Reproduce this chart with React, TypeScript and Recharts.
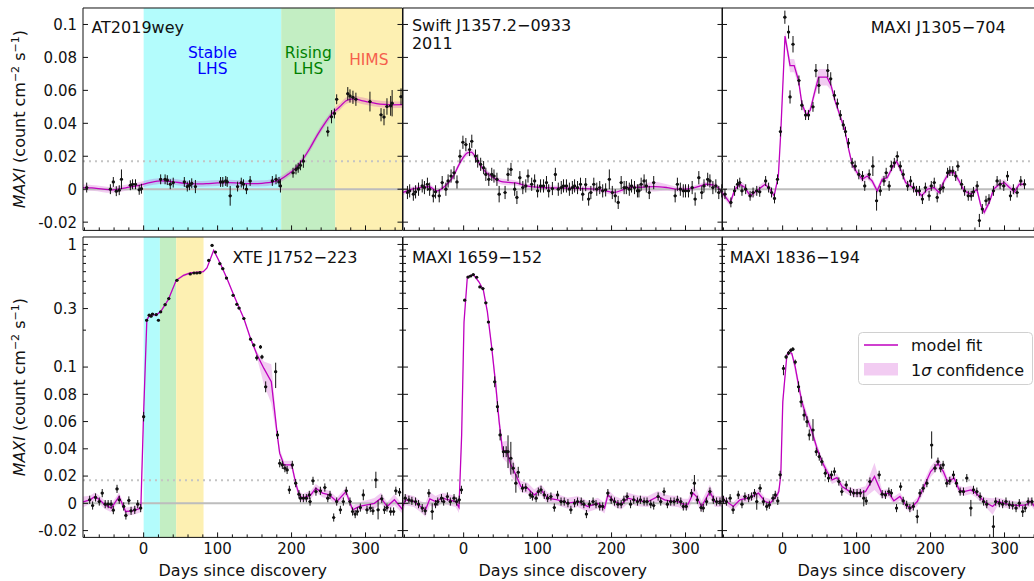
import React from 'react';
import {
  Area,
  ComposedChart,
  ErrorBar,
  Label,
  Legend,
  Line,
  ReferenceArea,
  ReferenceLine,
  Scatter,
  XAxis,
  YAxis,
} from 'recharts';

// ---- axis values ----
const dayTicks = [-80, -60, -40, -20, 0, 20, 40, 60, 80, 100, 120, 140, 160, 180, 200, 220, 240, 260, 280, 300, 320, 340];
const dayLabels = [0, 100, 200, 300];
const dayRange = [-82, 350];
const linTicks = [-0.02, 0, 0.02, 0.04, 0.06, 0.08, 0.1];
const linRange = [-0.025, 0.11];
const symTicks = [-0.02, 0, 0.02, 0.04, 0.06, 0.08, 0.1, 0.2, 0.3, 0.4, 0.5, 0.6, 0.7, 0.8, 0.9, 1];
const symLabels = [-0.02, 0, 0.02, 0.04, 0.06, 0.08, 0.1, 0.3, 1];
const symRange = [-0.025, 1.15];
const noiseLevel = 0.017;
const binHalfWidth = 2;

// state intervals (days)
const at2019weyStates = [[0, 186], [186, 259], [259, 350]];
const xteStates = [[0, 22], [22, 44], [44, 81]];
const stateNames = [['Stable', 'LHS'], ['Rising', 'LHS'], ['HIMS']];

// ---- model fits: [day, flux, 1 sigma] ----
const at2019weyFit = [
  [-82, 0.001, 0.0018], [-70, 0.0008, 0.0018], [-55, 0.0, 0.0018], [-45, -0.0004, 0.0018], [-35, 0.0, 0.0018],
  [-20, 0.0012, 0.0018], [-5, 0.0025, 0.0018], [10, 0.0042, 0.0018], [25, 0.005, 0.0018], [40, 0.0045, 0.0018],
  [55, 0.0036, 0.0018], [70, 0.0032, 0.0018], [85, 0.0034, 0.0018], [100, 0.0038, 0.0018], [115, 0.004, 0.0018],
  [130, 0.0036, 0.0018], [145, 0.0034, 0.0018], [160, 0.0036, 0.0018], [175, 0.0044, 0.0018], [185, 0.006, 0.0018],
  [195, 0.009, 0.0018], [205, 0.0125, 0.0018], [215, 0.018, 0.0018], [225, 0.025, 0.002], [235, 0.033, 0.002],
  [245, 0.04, 0.002], [255, 0.046, 0.002], [265, 0.05, 0.002], [275, 0.054, 0.002], [285, 0.0548, 0.002],
  [295, 0.0538, 0.002], [305, 0.0528, 0.002], [315, 0.052, 0.002], [325, 0.0515, 0.002], [335, 0.0512, 0.002],
  [350, 0.0513, 0.002],
];
const swiftFit = [
  [-82, -0.002, 0.0015], [-70, 0.0, 0.0015], [-58, 0.001, 0.0015], [-47, 0.0015, 0.0015], [-36, -0.001, 0.0015],
  [-25, 0.002, 0.0015], [-15, 0.007, 0.0015], [-5, 0.016, 0.0018], [5, 0.022, 0.002], [10, 0.0225, 0.002],
  [18, 0.018, 0.002], [25, 0.013, 0.0018], [32, 0.0096, 0.0018], [40, 0.007, 0.0018], [50, 0.0048, 0.0018],
  [60, 0.0042, 0.0018], [70, 0.0038, 0.0015], [85, 0.002, 0.0015], [100, 0.0012, 0.0015], [120, 0.0008, 0.0015],
  [140, 0.0006, 0.0015], [160, 0.0004, 0.0015], [177, 0.0, 0.0015], [190, -0.0008, 0.0015], [203, -0.002, 0.0015],
  [215, -0.0004, 0.0015], [222, 0.001, 0.0015], [240, 0.0012, 0.0018], [258, 0.0016, 0.003], [275, 0.001, 0.002],
  [290, 0.0, 0.0015], [308, 0.0004, 0.0015], [320, 0.002, 0.0015], [328, 0.003, 0.0015], [338, 0.0025, 0.0015],
  [346, 0.0, 0.0015], [352, -0.004, 0.0015],
];
const j1305Fit = [
  [-82, -0.002, 0.002], [-71, -0.0084, 0.002], [-64.5, 0.0, 0.002], [-57.7, 0.003, 0.002], [-51, 0.001, 0.002],
  [-44, -0.004, 0.002], [-35, -0.001, 0.002], [-23.7, 0.003, 0.002], [-17, 0.0, 0.002], [-11.5, -0.004, 0.002],
  [-5.8, 0.008, 0.002], [-2.6, 0.034, 0.002], [3.2, 0.093, 0.003], [10, 0.075, 0.004], [15.6, 0.075, 0.004],
  [21.5, 0.066, 0.003], [26, 0.052, 0.002], [32, 0.045, 0.002], [37.3, 0.048, 0.002], [42.8, 0.058, 0.003],
  [48.6, 0.068, 0.005], [60, 0.068, 0.005], [65.4, 0.063, 0.003], [71.3, 0.053, 0.002], [78, 0.044, 0.002],
  [84, 0.036, 0.002], [89.4, 0.024, 0.002], [94, 0.015, 0.002], [100.7, 0.01, 0.002], [107.5, 0.006, 0.002],
  [114.5, 0.008, 0.002], [121, 0.005, 0.002], [127.8, -0.001, 0.002], [134.6, 0.006, 0.002], [141.4, 0.007, 0.002],
  [148.2, 0.013, 0.002], [154, 0.017, 0.002], [159.5, 0.012, 0.002], [166.3, 0.004, 0.002], [173, 0.002, 0.002],
  [182, -0.001, 0.002], [188, -0.004, 0.002], [195.6, 0.0, 0.002], [204.7, 0.001, 0.002], [211.5, -0.002, 0.002],
  [218.3, 0.005, 0.002], [225, 0.01, 0.002], [232, 0.01, 0.002], [238.6, 0.005, 0.002], [245.4, -0.001, 0.002],
  [254.5, -0.003, 0.002], [262.6, 0.0, 0.002], [268, -0.01, 0.002], [272.6, -0.014, 0.002], [279.4, -0.008, 0.002],
  [285.3, 0.0, 0.002], [293, 0.003, 0.002], [300, 0.004, 0.002], [306.6, 0.001, 0.002], [313.4, -0.0016, 0.002],
  [320, 0.003, 0.002], [327, 0.003, 0.002],
];
const xteFit = [
  [-82, 0.001, 0.004], [-72.6, 0.0026, 0.003], [-66, 0.005, 0.003], [-59.5, 0.0026, 0.003], [-52.7, -0.0011, 0.003],
  [-43.7, -0.0035, 0.003], [-33.3, 0.005, 0.003], [-24.3, -0.006, 0.003], [-14.4, -0.0055, 0.003], [-3.8, -0.0035, 0.003],
  [-0.2, 0.0636, 0.004], [4.3, 0.241, 0.006], [7.5, 0.262, 0.006], [12, 0.268, 0.006], [17, 0.265, 0.006],
  [23.3, 0.285, 0.006], [33.6, 0.357, 0.008], [44, 0.51, 0.01], [54, 0.56, 0.015], [63, 0.585, 0.01],
  [80.7, 0.6, 0.01], [85.6, 0.643, 0.01], [94.7, 0.896, 0.015], [103.8, 0.697, 0.01], [112.8, 0.526, 0.01],
  [121.9, 0.385, 0.008], [128.7, 0.309, 0.006], [135.5, 0.249, 0.006], [144.5, 0.171, 0.006], [153.6, 0.125, 0.008],
  [162.6, 0.099, 0.012], [172.6, 0.0892, 0.016], [180.7, 0.0502, 0.004], [183.9, 0.0368, 0.003], [189.8, 0.0282, 0.003],
  [200.2, 0.0282, 0.003], [205.6, 0.0148, 0.003], [210.2, 0.0062, 0.003], [214.7, 0.0038, 0.003], [226, 0.0062, 0.003],
  [232.8, 0.0111, 0.003], [241.9, 0.0075, 0.003], [250.9, 0.0062, 0.003], [261.3, 0.0013, 0.003], [273.5, 0.0086, 0.003],
  [282.6, -0.0048, 0.003], [291.6, -0.0023, 0.003], [312, 0.0, 0.004], [321, 0.0038, 0.004], [329.2, -0.0023, 0.003],
  [339.1, 0.0026, 0.004], [350.4, -0.0048, 0.003],
];
const m1659Fit = [
  [-82, -0.002, 0.004], [-78.7, 0.0026, 0.004], [-67.4, 0.0013, 0.004], [-58.4, -0.0023, 0.004], [-51.6, -0.0048, 0.005],
  [-45.7, 0.0033, 0.005], [-38, 0.0013, 0.004], [-29, 0.0038, 0.004], [-20, 0.0026, 0.004], [-10.9, 0.0013, 0.004],
  [-6.3, -0.0031, 0.004], [-2.7, 0.0502, 0.005], [0.5, 0.233, 0.01], [5, 0.542, 0.01], [13.1, 0.568, 0.01],
  [20.8, 0.494, 0.01], [26.7, 0.423, 0.01], [32.1, 0.282, 0.008], [37.6, 0.151, 0.006], [43.4, 0.0868, 0.006],
  [48, 0.0599, 0.006], [52.5, 0.0392, 0.006], [58.4, 0.0379, 0.008], [63.8, 0.0282, 0.008], [70.6, 0.0209, 0.006],
  [77.4, 0.0123, 0.004], [86.5, 0.0111, 0.004], [95.5, 0.0062, 0.004], [104.6, 0.0099, 0.004], [113.6, 0.0038, 0.004],
  [127.2, 0.0026, 0.004], [140.8, 0.0001, 0.004], [154.3, 0.0013, 0.004], [167.9, -0.0023, 0.004], [181.5, 0.0001, 0.004],
  [190.5, -0.0035, 0.004], [195, 0.0062, 0.004], [204, 0.0013, 0.004], [213, -0.0006, 0.004], [222.1, 0.0038, 0.004],
  [235.7, 0.0018, 0.004], [249.2, 0.0013, 0.004], [262.8, 0.005, 0.004], [271.8, 0.0026, 0.004], [278.6, 0.0018, 0.004],
  [289.9, 0.0013, 0.004], [296.7, -0.0006, 0.004], [303.5, -0.0006, 0.004], [310.3, 0.0075, 0.005], [314.8, 0.005, 0.005],
  [321.6, -0.0023, 0.004], [332.9, 0.0086, 0.005], [339.7, 0.0013, 0.004], [351, 0.0013, 0.004],
];
const m1836Fit = [
  [-82, 0.0026, 0.003], [-75.8, 0.0013, 0.003], [-66.7, -0.0023, 0.003], [-57.7, 0.0026, 0.003], [-44.1, 0.0043, 0.003],
  [-32.8, 0.0075, 0.003], [-23.7, 0.0013, 0.003], [-16.9, 0.0001, 0.003], [-7.9, 0.0056, 0.003], [-5.2, 0.0086, 0.003],
  [-2.5, 0.0209, 0.003], [0.2, 0.0745, 0.005], [5.7, 0.125, 0.005], [7.9, 0.133, 0.005], [12.4, 0.129, 0.005],
  [17, 0.1005, 0.005], [21.5, 0.0868, 0.004], [26, 0.0745, 0.004], [32.8, 0.0624, 0.004], [39.6, 0.0527, 0.004],
  [46.4, 0.0404, 0.003], [53.2, 0.0306, 0.003], [60, 0.0233, 0.003], [66.8, 0.0172, 0.003], [73.5, 0.0189, 0.003],
  [80.3, 0.0123, 0.003], [89.4, 0.0092, 0.003], [98.4, 0.0075, 0.003], [112, 0.0086, 0.004], [124.2, 0.0197, 0.01],
  [134.6, 0.0067, 0.003], [143.6, 0.0075, 0.003], [150.4, 0.0018, 0.003], [158.6, 0.005, 0.003], [166.3, -0.0011, 0.003],
  [173, -0.0035, 0.003], [182.1, 0.0013, 0.003], [191.1, 0.0123, 0.004], [200.2, 0.0233, 0.004], [210.1, 0.0294, 0.004],
  [217.3, 0.0233, 0.004], [222.8, 0.016, 0.003], [231.8, 0.0185, 0.003], [238.6, 0.0099, 0.003], [245.4, 0.0086, 0.003],
  [254.5, 0.0099, 0.003], [261.3, 0.0075, 0.003], [272.6, 0.0013, 0.003], [283.9, -0.0023, 0.006], [290.7, 0.0013, 0.003],
  [304.3, -0.0006, 0.003], [317.9, -0.0016, 0.003], [329.2, -0.0011, 0.003], [336, 0.0013, 0.003], [340.5, -0.0023, 0.003],
  [350, 0.0, 0.003],
];

// ---- MAXI data: [day, flux, error] ----
const at2019weyObs = [
  [-77, 0.001, 0.003], [-45, 0.0, 0.003], [-41, 0.0044, 0.003], [-37, -0.0012, 0.003], [-33, -0.0006, 0.003],
  [-30, 0.006, 0.006], [-18, 0.0024, 0.003], [-15, 0.003, 0.003], [-11, 0.003, 0.003], [-6, -0.0004, 0.003],
  [-3, 0.0003, 0.003], [23, 0.006, 0.003], [29, 0.006, 0.003], [32, 0.0055, 0.003], [36, 0.003, 0.003],
  [40, 0.004, 0.003], [55, 0.0044, 0.003], [59, 0.0016, 0.003], [62, 0.0024, 0.003], [65, 0.0036, 0.003],
  [70, 0.0016, 0.004], [104, 0.0044, 0.003], [107, 0.0044, 0.003], [111, 0.005, 0.003], [113, 0.0044, 0.003],
  [117, -0.004, 0.006], [127, 0.0016, 0.003], [132, 0.004, 0.003], [135, 0.003, 0.003], [139, 0.0, 0.003],
  [144, 0.005, 0.003], [174, 0.005, 0.003], [179, 0.006, 0.003], [183, 0.0044, 0.003], [185, 0.002, 0.004],
  [202, 0.01, 0.003], [206, 0.012, 0.003], [209, 0.013, 0.003], [212, 0.0145, 0.003], [216, 0.017, 0.004],
  [249, 0.035, 0.003], [254, 0.044, 0.004], [258, 0.046, 0.003], [261, 0.0546, 0.003], [276, 0.058, 0.004],
  [279, 0.0566, 0.004], [283, 0.0558, 0.004], [287, 0.0546, 0.004], [306, 0.0532, 0.006], [321, 0.0452, 0.004],
  [325, 0.0438, 0.005], [329, 0.0502, 0.005], [334, 0.0506, 0.006], [336, 0.0522, 0.008], [348, 0.0562, 0.005],
];
const swiftObs = [
  [-76, -0.002, 0.004], [-73, -0.001, 0.004], [-68, -0.003, 0.004], [-65, -0.0016, 0.004], [-61, 0.0, 0.004],
  [-56, 0.002, 0.004], [-53, 0.001, 0.004], [-49, 0.003, 0.004], [-46, 0.0, 0.004], [-41, -0.004, 0.004],
  [-38, -0.0016, 0.004], [-33, -0.004, 0.004], [-29, 0.004, 0.004], [-24, 0.0, 0.004], [-21, 0.005, 0.004],
  [-17, 0.008, 0.004], [-13, 0.01, 0.004], [-9, 0.0044, 0.004], [-5, 0.02, 0.004], [-1, 0.0285, 0.004],
  [3, 0.0271, 0.004], [8, 0.0241, 0.004], [11, 0.0291, 0.004], [16, 0.0201, 0.004], [19, 0.0171, 0.004],
  [23, 0.0151, 0.004], [27, 0.0131, 0.004], [30, 0.009, 0.004], [34, 0.006, 0.004], [38, 0.009, 0.004],
  [41, 0.008, 0.004], [45, 0.006, 0.004], [48, -0.003, 0.005], [56, -0.002, 0.004], [60, 0.009, 0.004],
  [64, 0.012, 0.004], [69, 0.0, 0.004], [72, -0.005, 0.004], [76, 0.007, 0.004], [80, 0.001, 0.004],
  [84, 0.002, 0.004], [87, 0.008, 0.004], [92, 0.003, 0.004], [96, 0.005, 0.004], [100, -0.001, 0.004],
  [104, 0.002, 0.004], [108, 0.002, 0.004], [112, 0.004, 0.004], [115, -0.001, 0.004], [120, 0.0004, 0.004],
  [124, 0.009, 0.004], [128, 0.0, 0.004], [132, 0.001, 0.004], [135, 0.002, 0.004], [139, 0.002, 0.004],
  [143, 0.0, 0.004], [147, 0.001, 0.004], [150, 0.002, 0.004], [154, 0.001, 0.004], [158, 0.003, 0.004],
  [161, -0.003, 0.004], [165, 0.0028, 0.004], [169, -0.006, 0.004], [172, -0.002, 0.004], [176, 0.003, 0.004],
  [180, 0.0, 0.004], [184, 0.001, 0.004], [188, -0.001, 0.004], [192, -0.0004, 0.004], [197, 0.006, 0.006],
  [201, -0.002, 0.004], [205, -0.004, 0.004], [209, -0.008, 0.004], [213, 0.004, 0.004], [217, 0.001, 0.004],
  [220, 0.001, 0.004], [224, 0.0, 0.004], [227, 0.002, 0.004], [231, 0.001, 0.004], [235, -0.001, 0.004],
  [237, -0.001, 0.004], [240, 0.003, 0.004], [244, 0.005, 0.004], [247, 0.002, 0.004], [251, -0.002, 0.004],
  [257, 0.004, 0.004], [286, -0.004, 0.004], [289, 0.003, 0.004], [293, 0.0, 0.004], [297, -0.001, 0.004],
  [300, -0.001, 0.004], [304, -0.001, 0.004], [309, 0.001, 0.004], [313, -0.006, 0.004], [318, 0.007, 0.004],
  [322, -0.002, 0.004], [325, 0.002, 0.004], [330, 0.006, 0.004], [333, 0.005, 0.004], [337, 0.001, 0.004],
  [341, 0.002, 0.004], [345, -0.002, 0.004], [349, -0.001, 0.004],
];
const j1305Obs = [
  [-78, -0.003, 0.003], [-70, -0.008, 0.003], [-65, -0.001, 0.003], [-61, 0.003, 0.003], [-58, 0.004, 0.003],
  [-55, -0.001, 0.003], [-50, 0.0, 0.003], [-44, -0.004, 0.003], [-40, -0.002, 0.003], [-35, -0.001, 0.003],
  [-31, -0.0016, 0.003], [-23, 0.005, 0.003], [-19, 0.001, 0.003], [-15, -0.002, 0.003], [-11, -0.0056, 0.003],
  [-7, 0.006, 0.003], [-3, 0.035, 0.003], [3, 0.1044, 0.004], [8, 0.0954, 0.004], [10, 0.056, 0.004],
  [14, 0.088, 0.005], [22, 0.066, 0.003], [26, 0.051, 0.003], [31, 0.045, 0.003], [35, 0.045, 0.003],
  [41, 0.05, 0.003], [45, 0.072, 0.004], [49, 0.063, 0.005], [61, 0.072, 0.004], [65, 0.067, 0.004],
  [70, 0.057, 0.003], [74, 0.052, 0.003], [78, 0.045, 0.003], [82, 0.039, 0.003], [85, 0.035, 0.003],
  [89, 0.028, 0.003], [94, 0.016, 0.003], [98, 0.014, 0.003], [103, 0.009, 0.003], [108, 0.008, 0.003],
  [111, 0.002, 0.003], [117, 0.009, 0.003], [122, 0.014, 0.006], [127, -0.007, 0.006], [132, -0.001, 0.003],
  [137, 0.005, 0.003], [140, 0.01, 0.003], [144, 0.002, 0.003], [147, 0.014, 0.003], [151, 0.016, 0.003],
  [155, 0.02, 0.003], [159, 0.014, 0.003], [163, 0.009, 0.003], [169, 0.002, 0.003], [173, 0.005, 0.003],
  [177, 0.001, 0.003], [181, -0.001, 0.003], [185, -0.001, 0.003], [189, -0.006, 0.003], [193, 0.001, 0.003],
  [198, -0.004, 0.003], [201, 0.002, 0.003], [205, 0.004, 0.003], [209, -0.005, 0.003], [213, 0.0, 0.003],
  [217, 0.001, 0.003], [223, 0.01, 0.003], [226, 0.011, 0.003], [230, 0.011, 0.003], [234, 0.008, 0.003],
  [237, 0.014, 0.003], [242, 0.003, 0.003], [246, -0.001, 0.003], [251, -0.004, 0.003], [255, -0.004, 0.003],
  [258, -0.0016, 0.003], [263, 0.002, 0.003], [266, -0.019, 0.004], [270, -0.012, 0.003], [275, -0.007, 0.003],
  [279, -0.006, 0.003], [285, -0.001, 0.003], [290, 0.005, 0.003], [294, 0.003, 0.003], [299, 0.002, 0.003],
  [304, 0.008, 0.003], [308, -0.004, 0.003], [312, 0.0, 0.003], [317, -0.002, 0.003], [322, 0.005, 0.003],
  [327, 0.003, 0.003],
];
const xteObs = [
  [-73, 0.0026, 0.003], [-69, -0.0016, 0.003], [-65, 0.0043, 0.003], [-60, 0.0013, 0.003], [-56, 0.0075, 0.003],
  [-52, -0.0006, 0.003], [-48, -0.0006, 0.003], [-44, -0.0006, 0.003], [-41, -0.005, 0.003], [-36, 0.0106, 0.003],
  [-33, 0.0026, 0.003], [-27, -0.0023, 0.003], [-24, -0.0089, 0.003], [-20, 0.0021, 0.003], [-17, -0.0055, 0.003],
  [-12, -0.0048, 0.003], [-8, -0.0006, 0.003], [-4, -0.0035, 0.003], [0, 0.0636, 0.0035], [4, 0.241, 0.005],
  [7.5, 0.265, 0.005], [10, 0.26, 0.005], [12, 0.271, 0.005], [17, 0.268, 0.005], [20, 0.241, 0.005],
  [23, 0.282, 0.005], [29, 0.323, 0.005], [34, 0.362, 0.005], [45, 0.51, 0.006], [63, 0.574, 0.006],
  [68, 0.585, 0.006], [72, 0.585, 0.006], [76, 0.589, 0.006], [88, 0.741, 0.008], [92.5, 0.982, 0.01],
  [97, 0.867, 0.008], [103, 0.697, 0.008], [107, 0.635, 0.008], [112, 0.532, 0.008], [121, 0.385, 0.006],
  [126, 0.325, 0.006], [129, 0.303, 0.006], [135.5, 0.249, 0.006], [144.6, 0.169, 0.005], [149, 0.151, 0.005],
  [153, 0.119, 0.006], [158, 0.146, 0.005], [160, 0.121, 0.005], [165, 0.0855, 0.004], [178.5, 0.0966, 0.012],
  [181, 0.0502, 0.003], [184, 0.0294, 0.003], [187.5, 0.0282, 0.003], [191, 0.0258, 0.003], [194, 0.0245, 0.003],
  [197, 0.0099, 0.003], [201, 0.0282, 0.003], [205.6, 0.0148, 0.003], [210, 0.0067, 0.003], [212, 0.0038, 0.003],
  [216, 0.0038, 0.003], [220, 0.0038, 0.003], [224, 0.0062, 0.003], [225, 0.0013, 0.003], [229, 0.0165, 0.003],
  [233, 0.0086, 0.003], [239, 0.0092, 0.003], [245, 0.0116, 0.003], [249, 0.0038, 0.003], [252, 0.0062, 0.003],
  [257, -0.0104, 0.003], [261, 0.0013, 0.003], [266, -0.0048, 0.003], [270, 0.0013, 0.003], [274, 0.0092, 0.003],
  [279, 0.0013, 0.003], [282.5, -0.006, 0.003], [286, -0.0079, 0.003], [289, -0.006, 0.003], [293, -0.0031, 0.003],
  [297, 0.0062, 0.004], [302, -0.0048, 0.003], [306.5, -0.0035, 0.003], [310, -0.0055, 0.003], [314, 0.0172, 0.006],
  [317, -0.0048, 0.007], [322, 0.0033, 0.003], [325.5, -0.0048, 0.003], [329, -0.0031, 0.003], [334, -0.006, 0.003],
  [338, -0.006, 0.003], [341, 0.0092, 0.003], [346, 0.0082, 0.003],
];
const m1659Obs = [
  [-79, 0.0038, 0.003], [-74, 0.0026, 0.003], [-70, 0.0018, 0.003], [-65, 0.0013, 0.003], [-61, -0.0006, 0.003],
  [-56, -0.0035, 0.003], [-52, -0.0055, 0.003], [-47, 0.0075, 0.003], [-42.5, -0.006, 0.006], [-38, -0.0006, 0.003],
  [-35, 0.0013, 0.003], [-30, 0.0038, 0.003], [-27, 0.0013, 0.003], [-22, 0.005, 0.003], [-18, 0.0013, 0.003],
  [-13, 0.0038, 0.003], [-9.5, 0.0013, 0.003], [-6, 0.0026, 0.003], [-3, 0.0099, 0.003], [1.4, 0.351, 0.005],
  [6, 0.542, 0.006], [9.5, 0.553, 0.006], [13, 0.568, 0.006], [17.6, 0.54, 0.006], [22, 0.45, 0.006],
  [26, 0.437, 0.006], [30, 0.334, 0.005], [33.5, 0.233, 0.005], [38, 0.14, 0.004], [42, 0.0892, 0.004],
  [45.7, 0.0709, 0.004], [49.3, 0.0502, 0.004], [53.8, 0.0379, 0.004], [57.5, 0.0379, 0.004], [60, 0.0379, 0.012],
  [63.8, 0.0331, 0.012], [67, 0.0258, 0.004], [70.6, 0.0148, 0.007], [73.8, 0.0228, 0.004], [79.6, 0.0111, 0.003],
  [84, 0.0116, 0.003], [90, 0.0062, 0.003], [93, 0.005, 0.003], [98, 0.0038, 0.003], [101, 0.0086, 0.003],
  [104.6, 0.0099, 0.003], [109, 0.0062, 0.003], [113.6, 0.0038, 0.003], [118, 0.005, 0.003], [122.6, -0.0031, 0.003],
  [127, 0.0062, 0.003], [131.7, 0.0013, 0.003], [136, 0.0013, 0.003], [141, 0.0001, 0.003], [145, -0.0048, 0.003],
  [150, 0.0001, 0.003], [154, 0.0013, 0.003], [159, 0.0013, 0.003], [162.5, -0.0006, 0.003], [166, -0.0079, 0.003],
  [170, -0.0006, 0.003], [175, 0.0013, 0.003], [179, -0.0006, 0.003], [184, -0.0023, 0.003], [188, -0.0023, 0.003],
  [195, 0.0075, 0.003], [199.5, 0.0026, 0.003], [204, 0.0013, 0.003], [208.6, -0.0006, 0.003], [213, -0.0006, 0.003],
  [216.7, 0.0026, 0.003], [221, 0.005, 0.003], [225.7, -0.0006, 0.003], [230, 0.0026, 0.003], [235, 0.0013, 0.003],
  [239, 0.0026, 0.003], [244, 0.0013, 0.003], [248, 0.0013, 0.003], [253, -0.0006, 0.003], [257, -0.0016, 0.003],
  [263, 0.005, 0.003], [266.5, 0.0013, 0.003], [271, 0.0086, 0.003], [275.5, -0.0006, 0.003], [280, 0.0013, 0.003],
  [284.6, 0.0013, 0.003], [289, 0.0026, 0.003], [293.6, 0.0013, 0.003], [297, -0.0023, 0.003], [301, -0.0023, 0.003],
  [308, 0.0075, 0.003], [312, 0.0148, 0.006], [316, 0.0026, 0.003], [321, -0.0031, 0.003], [324, -0.0035, 0.003],
  [328.5, 0.0013, 0.003], [333, 0.0086, 0.003], [337.6, 0.0026, 0.003], [342, 0.0013, 0.003], [346.6, 0.0013, 0.003],
];
const m1836Obs = [
  [-80, 0.0026, 0.003], [-76, 0.0013, 0.003], [-71, 0.0038, 0.003], [-67, -0.0048, 0.003], [-60, 0.0062, 0.003],
  [-55, -0.0006, 0.003], [-51, 0.005, 0.003], [-46, 0.0038, 0.003], [-42, 0.005, 0.003], [-38, 0.0075, 0.003],
  [-35, 0.0013, 0.006], [-30.5, 0.0111, 0.003], [-26, 0.0013, 0.003], [-21.5, -0.0023, 0.003], [-18, -0.0011, 0.003],
  [-13, 0.0038, 0.003], [-10, 0.0062, 0.003], [-6.6, 0.0018, 0.003], [-3.4, 0.0209, 0.003], [1.1, 0.099, 0.005],
  [4.7, 0.121, 0.005], [7.9, 0.13, 0.005], [11, 0.137, 0.005], [13.8, 0.14, 0.005], [17, 0.11, 0.005],
  [21.5, 0.0855, 0.004], [25, 0.0745, 0.004], [29, 0.0648, 0.004], [33, 0.0599, 0.004], [36, 0.0502, 0.004],
  [41, 0.0538, 0.008], [45.5, 0.0379, 0.003], [49.5, 0.0343, 0.003], [53, 0.0306, 0.003], [57.7, 0.0221, 0.003],
  [62, 0.0185, 0.003], [66, 0.0209, 0.003], [70, 0.0233, 0.003], [76, 0.016, 0.003], [80, 0.0086, 0.003],
  [86, 0.0135, 0.003], [91.6, 0.0086, 0.003], [96, 0.0075, 0.003], [100.6, 0.0075, 0.003], [105, 0.0075, 0.003],
  [109.7, 0.0038, 0.006], [113, 0.0018, 0.003], [118, 0.016, 0.003], [130.5, 0.0209, 0.003], [134.6, 0.0067, 0.003],
  [139, 0.0062, 0.003], [143.6, 0.0086, 0.003], [147, 0.0075, 0.003], [154, -0.0035, 0.003], [159.5, 0.0123, 0.003],
  [163, 0.0018, 0.003], [167.7, -0.0011, 0.003], [172, -0.0035, 0.003], [176.7, -0.0023, 0.003], [182, -0.0097, 0.005],
  [185.7, 0.0075, 0.003], [190, 0.0111, 0.003], [195, 0.0148, 0.003], [201.5, 0.0428, 0.01], [206, 0.0258, 0.003],
  [210, 0.0306, 0.003], [213.7, 0.0258, 0.003], [217, 0.0282, 0.003], [222, 0.0148, 0.003], [226, 0.0165, 0.003],
  [231, 0.0209, 0.003], [235, 0.0148, 0.003], [240, 0.0086, 0.003], [244.5, 0.0086, 0.003], [249, 0.0185, 0.003],
  [254.5, -0.0035, 0.006], [258, 0.0099, 0.003], [262.6, 0.0086, 0.003], [267, 0.005, 0.003], [271.7, 0.0013, 0.003],
  [276, -0.0006, 0.003], [285, -0.017, 0.008], [288, 0.0013, 0.003], [293, 0.0001, 0.003], [297.5, -0.0006, 0.003],
  [302, 0.0013, 0.003], [306.5, -0.0011, 0.003], [311, -0.0016, 0.003], [315.6, -0.0035, 0.003], [320, 0.0001, 0.003],
  [324.6, -0.006, 0.004], [328, -0.0035, 0.003], [332, 0.0013, 0.003], [337, 0.0013, 0.003],
];

// ---- styling / layout ----
const FONT = '"DejaVu Sans", Verdana, sans-serif';
const FIT = '#bf00bf';
const INK = '#111';
const STATE_FILL = ['#b3fcfc', '#c3eec3', '#fdf0b2'];
const STATE_TEXT = ['#0000ff', '#008000', '#f55f4c'];
const PW = 319.5;
const COLS = [83.3, 402.8, 722.3];
const ROWS = [{ top: 8.3, h: 222.4 }, { top: 237.3, h: 300.4 }];
const ML = 84;
const MT = 10;
const MR = 10;
const MB = 50;

// matplotlib-like symlog, linthresh 0.1, linscale 1
const symlog = (v: number) =>
  Math.abs(v) <= 0.1 ? v / 0.09 : Math.sign(v) * (1 / 0.9 + Math.log10(Math.abs(v) / 0.1));
const symexp = (t: number) =>
  Math.abs(t) <= 1 / 0.9 ? t * 0.09 : Math.sign(t) * 0.1 * Math.pow(10, Math.abs(t) - 1 / 0.9);

const fmt = (v: number) => (v === 0 ? '0' : String(v));
const dayLabel = (d: number) => (dayLabels.includes(d) ? String(d) : null);
const linLabel = (v: number) => fmt(Math.round(v * 1000) / 1000);
const symLabel = (t: number) => {
  const v = symexp(t);
  const hit = symLabels.find((s) => Math.abs(s - v) < 1e-6);
  return hit === undefined ? null : fmt(hit);
};

type Side = 'bottom' | 'top' | 'left' | 'right';
const tickPainter = (side: Side, showLabels: boolean, labelOf: (v: number) => string | null) => (p: any) => {
  const { x, y, payload } = p;
  const lab = labelOf(payload.value);
  const len = lab !== null ? 5 : 3;
  let x2 = x;
  let y2 = y;
  if (side === 'bottom') y2 = y - len;
  if (side === 'top') y2 = y + len;
  if (side === 'left') x2 = x + len;
  if (side === 'right') x2 = x - len;
  return (
    <g>
      <line x1={x} y1={y} x2={x2} y2={y2} stroke={INK} strokeWidth={1} />
      {showLabels && lab !== null && side === 'bottom' && (
        <text x={x} y={y + 17} textAnchor='middle' fontSize={15} fontFamily={FONT} fill={INK}>
          {lab}
        </text>
      )}
      {showLabels && lab !== null && side === 'left' && (
        <text x={x - 6} y={y} dy='0.36em' textAnchor='end' fontSize={15} fontFamily={FONT} fill={INK}>
          {lab}
        </text>
      )}
    </g>
  );
};

const YTitle = (p: any) => {
  const vb = p.viewBox;
  const x = vb.x + vb.width - 58.3;
  const y = vb.y + vb.height / 2;
  return (
    <text transform={`translate(${x},${y}) rotate(-90)`} textAnchor='middle' fontSize={16} fontFamily={FONT} fill={INK}>
      <tspan fontStyle='italic'>MAXI</tspan>
      <tspan> (count cm</tspan>
      <tspan dy={-6} fontSize={11}>−2</tspan>
      <tspan dy={6}> s</tspan>
      <tspan dy={-6} fontSize={11}>−1</tspan>
      <tspan dy={6}>)</tspan>
    </text>
  );
};

const XTitle = (p: any) => {
  const vb = p.viewBox;
  return (
    <text x={vb.x + vb.width / 2} y={vb.y + 39} textAnchor='middle' fontSize={16} fontFamily={FONT} fill={INK}>
      Days since discovery
    </text>
  );
};

const regionLabel = (lines: string[], color: string) => (p: any) => {
  const vb = p.viewBox;
  const cx = vb.x + vb.width / 2;
  const y0 = vb.y + (lines.length === 1 ? 57.4 : 50);
  return (
    <g>
      {lines.map((l, i) => (
        <text key={i} x={cx} y={y0 + i * 16} textAnchor='middle' fontSize={15.5} fontFamily={FONT} fill={color}>
          {l}
        </text>
      ))}
    </g>
  );
};

const LegendBox = () => (
  <div style={{ width: 175, height: 53, position: 'relative' }}>
    <svg width={175} height={53} style={{ position: 'absolute', left: 0, top: 0 }}>
      <rect x={0.5} y={0.5} width={174} height={52} rx={4} fill='#fff' fillOpacity={0.8} stroke='#d0d0d0' />
      <line x1={6} x2={40} y1={13} y2={13} stroke={FIT} strokeWidth={1.3} />
      <rect x={6} y={31} width={34} height={12.5} fill={FIT} fillOpacity={0.2} />
      <text x={53} y={19} fontSize={16} fontFamily={FONT} fill={INK}>model fit</text>
      <text x={53} y={44} fontSize={16} fontFamily={FONT} fill={INK}>
        1<tspan fontStyle='italic'>σ</tspan> confidence
      </text>
    </svg>
  </div>
);

interface Title {
  lines: string[];
  dx: number;
  dy: number;
  anchor?: 'start' | 'end';
}

interface PanelProps {
  col: number;
  row: number;
  fit: number[][];
  obs: number[][];
  curve: 'monotone' | 'linear';
  title: Title;
  states?: number[][];
  stateLabels?: boolean;
  legend?: boolean;
}

const Panel = ({ col, row, fit, obs, curve, title, states, stateLabels, legend }: PanelProps) => {
  const sym = row === 1;
  const f = sym ? symlog : (v: number) => v;
  const h = ROWS[row].h;
  const width = ML + PW + MR;
  const height = MT + h + MB;
  const yDomain = (sym ? symRange : linRange).map(f);
  const yTicks = (sym ? symTicks : linTicks).map(f);
  const yLab = sym ? symLabel : linLabel;

  const fitRows = fit.map(([d, v, s]) => ({ d, y: f(v), band: [f(v - s), f(v + s)] }));
  const obsRows = obs.map(([d, v, e]) => ({
    d,
    y: f(v),
    ey: [f(v) - f(v - e), f(v + e) - f(v)],
    ex: binHalfWidth,
  }));

  // axes are 1px thick, so the margins give the plot box exactly
  const axisCommon = {
    type: 'number' as const,
    allowDataOverflow: true,
    interval: 0,
    tickSize: 0,
    tickMargin: 0,
    axisLine: { stroke: INK, strokeWidth: 1 },
    tickLine: false,
  };

  return (
    <div style={{ position: 'absolute', left: COLS[col] - ML, top: ROWS[row].top - MT, width, height }}>
      <ComposedChart width={width} height={height} margin={{ top: MT - 1, right: MR - 1, bottom: MB - 1, left: ML - 1 }}>
        <XAxis
          {...axisCommon}
          xAxisId='b'
          dataKey='d'
          domain={dayRange}
          ticks={dayTicks}
          height={1}
          tick={tickPainter('bottom', row === 1, dayLabel)}
        >
          {row === 1 && <Label content={XTitle} />}
        </XAxis>
        <XAxis
          {...axisCommon}
          xAxisId='t'
          orientation='top'
          domain={dayRange}
          ticks={dayTicks}
          height={1}
          tick={tickPainter('top', false, dayLabel)}
        />
        <YAxis
          {...axisCommon}
          yAxisId='l'
          domain={yDomain}
          ticks={yTicks}
          width={1}
          tick={tickPainter('left', col === 0, yLab)}
        >
          {col === 0 && <Label content={YTitle} />}
        </YAxis>
        <YAxis
          {...axisCommon}
          yAxisId='r'
          orientation='right'
          domain={yDomain}
          ticks={yTicks}
          width={1}
          tick={tickPainter('right', false, yLab)}
        />

        {states &&
          states.map(([from, to], i) => (
            <ReferenceArea
              key={i}
              xAxisId='b'
              yAxisId='l'
              x1={from}
              x2={to}
              fill={STATE_FILL[i]}
              fillOpacity={1}
              stroke='none'
              label={stateLabels ? regionLabel(stateNames[i], STATE_TEXT[i]) : undefined}
            />
          ))}

        <Area
          xAxisId='b'
          yAxisId='l'
          data={fitRows}
          dataKey='band'
          type={curve}
          stroke='none'
          fill={FIT}
          fillOpacity={0.2}
          dot={false}
          activeDot={false}
          isAnimationActive={false}
        />
        <ReferenceLine xAxisId='b' yAxisId='l' y={f(0)} stroke='#bdbdbd' strokeWidth={2} />
        <ReferenceLine xAxisId='b' yAxisId='l' y={f(noiseLevel)} stroke='#c4c4c4' strokeWidth={2} strokeDasharray='2 4' />
        <Line
          xAxisId='b'
          yAxisId='l'
          data={fitRows}
          dataKey='y'
          type={curve}
          stroke={FIT}
          strokeWidth={1.3}
          dot={false}
          activeDot={false}
          isAnimationActive={false}
        />
        <Scatter
          xAxisId='b'
          yAxisId='l'
          data={obsRows}
          dataKey='y'
          isAnimationActive={false}
          shape={(p: any) => <circle cx={p.cx} cy={p.cy} r={1.6} fill={INK} />}
        >
          <ErrorBar dataKey='ey' direction='y' width={0} stroke={INK} strokeWidth={1} isAnimationActive={false} />
          <ErrorBar dataKey='ex' direction='x' width={0} stroke={INK} strokeWidth={1} isAnimationActive={false} />
        </Scatter>

        {legend && (
          <Legend
            layout='vertical'
            align='center'
            verticalAlign='middle'
            wrapperStyle={{ left: 219.7, top: 104.7, width: 175, height: 53 }}
            content={() => <LegendBox />}
          />
        )}
      </ComposedChart>
      {/* panel name, drawn over the shaded states */}
      <svg
        width={width}
        height={height}
        style={{ position: 'absolute', left: 0, top: 0, pointerEvents: 'none', overflow: 'visible' }}
      >
        <text
          x={ML + title.dx}
          y={MT + title.dy}
          textAnchor={title.anchor ?? 'start'}
          fontSize={16}
          fontFamily={FONT}
          fill={INK}
        >
          {title.lines.map((l, i) => (
            <tspan key={i} x={ML + title.dx} dy={i === 0 ? 0 : 18.3}>
              {l}
            </tspan>
          ))}
        </text>
      </svg>
    </div>
  );
};

export default function App() {
  return (
    <div style={{ position: 'absolute', left: 0, top: 0, width: 1034, height: 581, overflow: 'hidden', background: '#fff' }}>
      <Panel
        col={0}
        row={0}
        fit={at2019weyFit}
        obs={at2019weyObs}
        curve='monotone'
        states={at2019weyStates}
        stateLabels
        title={{ lines: ['AT2019wey'], dx: 8.4, dy: 24.7 }}
      />
      <Panel
        col={1}
        row={0}
        fit={swiftFit}
        obs={swiftObs}
        curve='monotone'
        title={{ lines: ['Swift J1357.2−0933', '2011'], dx: 8.9, dy: 22.7 }}
      />
      <Panel
        col={2}
        row={0}
        fit={j1305Fit}
        obs={j1305Obs}
        curve='linear'
        title={{ lines: ['MAXI J1305−704'], dx: 283.7, dy: 24.7, anchor: 'end' }}
      />
      <Panel
        col={0}
        row={1}
        fit={xteFit}
        obs={xteObs}
        curve='linear'
        states={xteStates}
        title={{ lines: ['XTE J1752−223'], dx: 149.4, dy: 26 }}
      />
      <Panel
        col={1}
        row={1}
        fit={m1659Fit}
        obs={m1659Obs}
        curve='linear'
        title={{ lines: ['MAXI 1659−152'], dx: 8.9, dy: 26 }}
      />
      <Panel
        col={2}
        row={1}
        fit={m1836Fit}
        obs={m1836Obs}
        curve='linear'
        legend
        title={{ lines: ['MAXI 1836−194'], dx: 7.7, dy: 26 }}
      />
    </div>
  );
}
